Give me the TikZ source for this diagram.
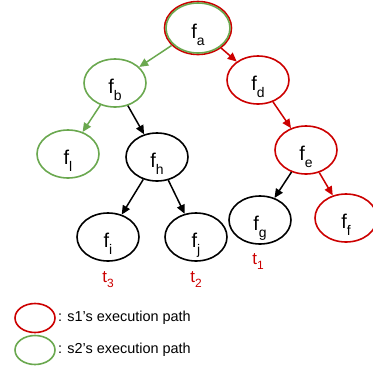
\documentclass[tikz,border=0pt]{standalone}
\usepackage{fontspec}
\setmainfont{Liberation Sans}
\usetikzlibrary{shapes.geometric,arrows.meta}
\definecolor{pathred}{RGB}{204,0,0}
\definecolor{pathgreen}{RGB}{106,168,79}
\newcommand{\fsub}[1]{f\raisebox{-7bp}{\fontsize{14}{14}\selectfont #1}}
\newcommand{\tsub}[1]{t\raisebox{-5bp}{\fontsize{12}{12}\selectfont #1}}
\begin{document}
\begin{tikzpicture}[x=1bp,y=-1bp,line join=round,
    fn/.style={ellipse,draw,line width=1.6bp,minimum width=62bp,minimum height=48bp,
        inner sep=0pt,text height=20bp,text depth=0bp,font=\fontsize{20}{20}\selectfont},
    red/.style={draw=pathred},
    green/.style={draw=pathgreen},
    edge/.style={-{Triangle[width=8bp,length=9bp]},line width=1.5bp},
    tl/.style={text=pathred,font=\fontsize{17}{17}\selectfont},
    key/.style={ellipse,draw,line width=1.6bp,minimum width=40bp,minimum height=29bp,inner sep=0pt},
    keytext/.style={anchor=west,inner sep=2bp,font=\fontsize{14.5}{14.5}\selectfont}]
    \useasboundingbox (0,0) rectangle (373,367);
    % tree
    \node[fn,red,minimum width=67bp,minimum height=53bp] (fa) at (198,28) {\fsub{a}};
    \node[ellipse,green,line width=1.6bp,minimum width=64bp,minimum height=50bp] (fain) at (198,28) {};
    \node[fn,green] (fb) at (115,83) {\fsub{b}};
    \node[fn,red] (fd) at (258,80) {\fsub{d}};
    \node[fn,green] (fl) at (68,154) {\fsub{l}};
    \node[fn] (fh) at (157,157) {\fsub{h}};
    \node[fn,red] (fe) at (306,150) {\fsub{e}};
    \node[fn] (fi) at (108,237) {\fsub{i}};
    \node[fn] (fj) at (196,237) {\fsub{j}};
    \node[fn] (fg) at (260,220) {\fsub{g}};
    \node[fn,red] (ff) at (346,218) {\fsub{f}};
    \draw[edge,pathgreen] (fa) -- (fb);
    \draw[edge,pathgreen] (fb) -- (fl);
    \draw[edge] (fb) -- (fh);
    \draw[edge] (fh) -- (fi);
    \draw[edge] (fh) -- (fj);
    \draw[edge,pathred] (fa) -- (fd);
    \draw[edge,pathred] (fd) -- (fe);
    \draw[edge] (fe) -- (fg);
    \draw[edge,pathred] (fe) -- (ff);
    % t labels
    \node[tl] (t3) at (108,280) {\tsub{3}};
    \node[tl] (t2) at (196,280) {\tsub{2}};
    \node[tl] (t1) at (258,262) {\tsub{1}};
    % legend
    \node[key,red] (k1) at (35,318) {};
    \node[key,green] (k2) at (35,350) {};
    \node[keytext] (k1t) at (k1.east) {: s1’s execution path};
    \node[keytext] (k2t) at (k2.east) {: s2’s execution path};
\end{tikzpicture}
\end{document}
